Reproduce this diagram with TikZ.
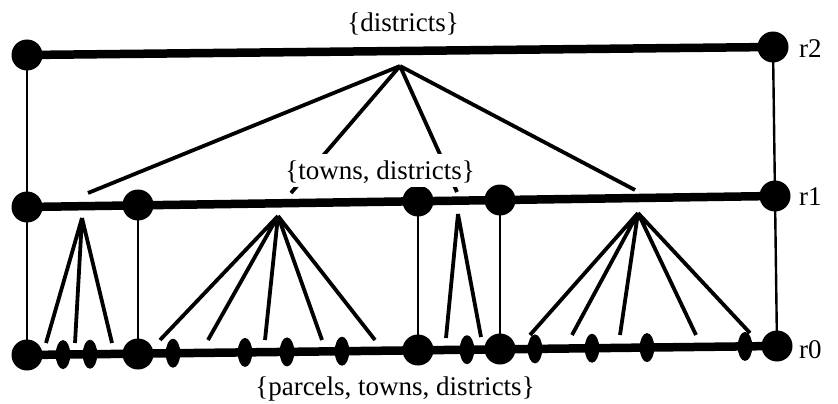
\documentclass[tikz,border=0pt]{standalone}
\usepackage{fontspec}
\setmainfont{Liberation Serif}
\usetikzlibrary{shapes.geometric,backgrounds}
\begin{document}
\begin{tikzpicture}[x=1pt,y=-1pt,
  bigdot/.style={circle,fill=black,inner sep=0pt,minimum size=31pt},
  smalldot/.style={ellipse,fill=black,inner sep=0pt,minimum width=14.5pt,minimum height=29pt},
  level/.style={line width=8.5pt},
  link/.style={line width=2.4pt},
  fan/.style={line width=3.8pt},
  lbl/.style={font=\fontsize{27}{31}\selectfont,inner sep=1pt},
  rlbl/.style={font=\fontsize{27}{31}\selectfont,inner sep=0pt,anchor=west}]
\useasboundingbox (0,0) rectangle (838,404);
% r2 level
\node[bigdot] (L2) at (27,55) {};
\node[bigdot] (R2) at (773,47) {};
% r1 level
\node[bigdot] (A1) at (27,207) {};
\node[bigdot] (B1) at (138,205) {};
\node[bigdot] (C1) at (418,201) {};
\node[bigdot] (D1) at (500,200) {};
\node[bigdot] (E1) at (775,196) {};
% r0 level
\node[bigdot] (A0) at (27,355) {};
\node[bigdot] (B0) at (138,354) {};
\node[bigdot] (C0) at (418,350) {};
\node[bigdot] (D0) at (500,349) {};
\node[bigdot] (E0) at (777,346) {};
\node[smalldot] (s1) at (63,354.6) {};
\node[smalldot] (s2) at (90,354.2) {};
\node[smalldot] (s3) at (173,353.2) {};
\node[smalldot] (s4) at (245,352.4) {};
\node[smalldot] (s5) at (287,351.9) {};
\node[smalldot] (s6) at (342,351.2) {};
\node[smalldot] (s7) at (467,349.7) {};
\node[smalldot] (s8) at (535,348.9) {};
\node[smalldot] (s9) at (592,348.2) {};
\node[smalldot] (s10) at (647,347.6) {};
\node[smalldot] (s11) at (745,346.4) {};
\begin{scope}[on background layer]
\draw[level] (L2.center) -- (R2.center);
\draw[level] (A1.center) -- (E1.center);
\draw[level] (A0.center) -- (E0.center);
\draw[link] (L2.center) -- (A1.center);
\draw[link] (R2.center) -- (E1.center);
\draw[link] (A1.center) -- (A0.center);
\draw[link] (B1.center) -- (B0.center);
\draw[link] (C1.center) -- (C0.center);
\draw[link] (D1.center) -- (D0.center);
\draw[link] (E1.center) -- (E0.center);
\end{scope}
% top fan
\coordinate (T) at (400,66);
\coordinate (t1) at (88,193);
\coordinate (t2) at (291,193);
\coordinate (t3) at (457,192);
\coordinate (t4) at (635,190);
\draw[fan] (T) -- (t1) (T) -- (t2) (T) -- (t3) (T) -- (t4);
% fan A
\coordinate (FA) at (82,218);
\coordinate (a1) at (46,343);
\coordinate (a2) at (75,343);
\coordinate (a3) at (112,343);
\draw[fan] (FA) -- (a1) (FA) -- (a2) (FA) -- (a3);
% fan B
\coordinate (FB) at (278,216);
\coordinate (b1) at (160,340);
\coordinate (b2) at (208,340);
\coordinate (b3) at (265,340);
\coordinate (b4) at (322,340);
\coordinate (b5) at (375,340);
\draw[fan] (FB) -- (b1) (FB) -- (b2) (FB) -- (b3) (FB) -- (b4) (FB) -- (b5);
% fan C
\coordinate (FC) at (458,214);
\coordinate (c1) at (446,338);
\coordinate (c2) at (481,337);
\draw[fan] (FC) -- (c1) (FC) -- (c2);
% fan D
\coordinate (FD) at (638,213);
\coordinate (d1) at (530,335);
\coordinate (d2) at (572,335);
\coordinate (d3) at (620,335);
\coordinate (d4) at (696,335);
\coordinate (d5) at (750,333);
\draw[fan] (FD) -- (d1) (FD) -- (d2) (FD) -- (d3) (FD) -- (d4) (FD) -- (d5);
% labels
\node[lbl] (ltop) at (403,24) {\{districts\}};
\node[lbl,fill=white,anchor=base,text height=25pt,text depth=8pt,inner ysep=0pt,inner xsep=2pt] (lmid) at (380,179) {\{towns, districts\}};
\node[lbl] (lbot) at (395,389) {\{parcels, towns, districts\}};
\node[rlbl] (r2) at (799,49) {r2};
\node[rlbl] (r1) at (799,197) {r1};
\node[rlbl] (r0) at (799,350) {r0};
\end{tikzpicture}
\end{document}
